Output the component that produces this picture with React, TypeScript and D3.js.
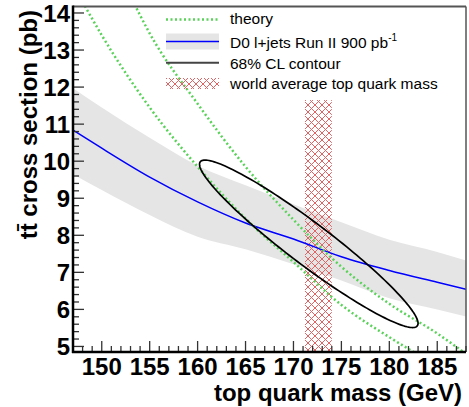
import React from "react";
import * as d3 from "d3";

// ---- data ----
const massGrid = [147, 150, 155, 160, 165, 170, 175, 180, 185, 188];
const measured = [10.84, 10.35, 9.57, 8.9, 8.33, 7.9, 7.42, 7.05, 6.73, 6.54];
const bandHigh = [11.97, 11.45, 10.63, 9.88, 9.35, 8.84, 8.35, 7.88, 7.55, 7.32];
const bandLow = [9.65, 9.22, 8.55, 7.96, 7.62, 7.22, 6.78, 6.3, 6.0, 5.81];

const theoryAMass = [148, 150, 155, 160, 165, 170, 175, 180, 183];
const theoryA = [14.3, 13.4, 11.45, 9.85, 8.45, 7.28, 6.12, 5.25, 4.78];
const theoryBMass = [153, 155, 160, 165, 170, 175, 180, 185, 188];
const theoryB = [14.45, 13.45, 11.55, 9.85, 8.42, 7.15, 6.15, 5.35, 4.8];

// 68% CL contour: centre, half extents, correlation
const contourCentre = [171.6, 7.77];
const contourHalfExtent = [11.4, 2.26];
const contourRho = -0.95;

// world average top quark mass band
const worldAvgRange = [171.2, 174.0];
const worldAvgTop = 11.65;

const xDomain = [147, 188];
const yDomain = [4.85, 14.175];
const xMajor = [150, 155, 160, 165, 170, 175, 180, 185];
const yMajor = [5, 6, 7, 8, 9, 10, 11, 12, 13, 14];

const legendLabels = ["theory", "D0 l+jets Run II 900 pb", "68% CL contour", "world average top quark mass"];

const FONT = "'Liberation Sans', Arial, Helvetica, sans-serif";

export default function App() {
  const W = 469, H = 407;
  const L = 73, R = 466, T = 6.5, B = 352;
  const x = d3.scaleLinear().domain(xDomain).range([L, R]);
  const y = d3.scaleLinear().domain(yDomain).range([B, T]);

  const area = d3
    .area<number>()
    .x((_, i) => x(massGrid[i]))
    .y0((_, i) => y(bandLow[i]))
    .y1((_, i) => y(bandHigh[i]))
    .curve(d3.curveMonotoneX);
  const line = d3
    .line<[number, number]>()
    .x((d) => x(d[0]))
    .y((d) => y(d[1]))
    .curve(d3.curveMonotoneX);

  const measuredPts = massGrid.map((m, i) => [m, measured[i]] as [number, number]);
  const thA = theoryAMass.map((m, i) => [m, theoryA[i]] as [number, number]);
  const thB = theoryBMass.map((m, i) => [m, theoryB[i]] as [number, number]);

  const ellPts: [number, number][] = d3.range(0, 361, 2).map((deg) => {
    const t = (deg * Math.PI) / 180;
    const m = contourCentre[0] + contourHalfExtent[0] * Math.cos(t);
    const s =
      contourCentre[1] +
      contourHalfExtent[1] * (contourRho * Math.cos(t) + Math.sqrt(1 - contourRho * contourRho) * Math.sin(t));
    return [m, s];
  });
  const ellPath = d3
    .line<[number, number]>()
    .x((d) => x(d[0]))
    .y((d) => y(d[1]))
    .curve(d3.curveLinearClosed)(ellPts);

  const xMinor = d3.range(147, 189, 1).filter((v) => !xMajor.includes(v));
  const yMinor = d3.range(50, 142, 2).map((v) => v / 10).filter((v) => !yMajor.includes(v) && v <= yDomain[1]);

  const green = "#5ad25a";
  const hatchColor = "#e06464";

  const legX0 = 166, legX1 = 219, legTX = 230;

  return (
    <svg width={W} height={H} style={{ position: "absolute", left: 0, top: 0, background: "#fff" }} fontFamily={FONT}>
      <defs>
        <clipPath id="plotClip">
          <rect x={L} y={T} width={R - L} height={B - T} />
        </clipPath>
        <pattern id="hatch" patternUnits="userSpaceOnUse" width={7} height={7}>
          <path d="M-1,-1 L8,8 M8,-1 L-1,8" stroke={hatchColor} strokeWidth={1} fill="none" />
        </pattern>
      </defs>

      <g clipPath="url(#plotClip)">
        <path d={area(massGrid) || ""} fill="#e5e5e5" />
        <rect
          x={x(worldAvgRange[0])}
          y={y(worldAvgTop)}
          width={x(worldAvgRange[1]) - x(worldAvgRange[0])}
          height={B - y(worldAvgTop)}
          fill="url(#hatch)"
        />
        <path d={line(measuredPts) || ""} fill="none" stroke="#0000ff" strokeWidth={1.5} />
        <path d={line(thA) || ""} fill="none" stroke={green} strokeWidth={2.5} strokeDasharray="2 2.5" />
        <path d={line(thB) || ""} fill="none" stroke={green} strokeWidth={2.5} strokeDasharray="2 2.5" />
        <path d={ellPath || ""} fill="none" stroke="#000" strokeWidth={1.7} />
      </g>

      {/* frame */}
      <line x1={L} x2={R} y1={T} y2={T} stroke="#555" strokeWidth={2} />
      <line x1={R} x2={R} y1={T} y2={B} stroke="#555" strokeWidth={1.5} />

      {/* x ticks */}
      {xMinor.map((v) => (
        <line key={"xm" + v} x1={x(v)} x2={x(v)} y1={B} y2={B - 6} stroke="#333" strokeWidth={1.3} />
      ))}
      {xMajor.map((v) => (
        <line key={"xM" + v} x1={x(v)} x2={x(v)} y1={B} y2={B - 11} stroke="#333" strokeWidth={1.3} />
      ))}
      {xMajor.map((v) => (
        <text key={"xl" + v} x={x(v)} y={375} textAnchor="middle" fontSize={24} fontWeight="bold" fill="#000">
          {v}
        </text>
      ))}

      {/* y ticks */}
      {yMinor.map((v) => (
        <line key={"ym" + v} x1={L} x2={L + 6} y1={y(v)} y2={y(v)} stroke="#333" strokeWidth={1.3} />
      ))}
      {yMajor.map((v) => (
        <line key={"yM" + v} x1={L} x2={L + 11} y1={y(v)} y2={y(v)} stroke="#333" strokeWidth={1.3} />
      ))}
      {yMajor.map((v) => (
        <text key={"yl" + v} x={70} y={y(v)} dy="0.36em" textAnchor="end" fontSize={24} fontWeight="bold" fill="#000">
          {v}
        </text>
      ))}

      {/* axis lines */}
      <line x1={L} x2={L} y1={T - 1} y2={B + 1} stroke="#000" strokeWidth={2.5} />
      <line x1={L - 1} x2={R} y1={B} y2={B} stroke="#000" strokeWidth={2.5} />

      {/* axis titles */}
      <text x={462} y={401} textAnchor="end" fontSize={24} fontWeight="bold" fill="#000">
        top quark mass (GeV)
      </text>
      <text transform="translate(37,10) rotate(-90)" textAnchor="end" fontSize={24} fontWeight="bold" fill="#000">
        {"tt\u0304 cross section (pb)"}
      </text>

      {/* legend */}
      <line x1={legX0} x2={legX1} y1={19.5} y2={19.5} stroke={green} strokeWidth={2.5} strokeDasharray="2 2.5" />
      <rect x={legX0} y={33.5} width={legX1 - legX0} height={16} fill="#e5e5e5" />
      <line x1={legX0} x2={legX1} y1={41.5} y2={41.5} stroke="#0000ff" strokeWidth={1.5} />
      <line x1={legX0} x2={legX1} y1={62.7} y2={62.7} stroke="#444" strokeWidth={2} />
      <rect x={legX0} y={78} width={legX1 - legX0} height={11} fill="url(#hatch)" />

      <g fontSize={15.5} fill="#000">
        <text x={legTX} y={24}>{legendLabels[0]}</text>
        <text x={legTX} y={48.3}>
          {legendLabels[1]}
          <tspan fontSize={10} dy={-7}>-1</tspan>
        </text>
        <text x={legTX} y={69}>{legendLabels[2]}</text>
        <text x={legTX} y={89.3}>{legendLabels[3]}</text>
      </g>
    </svg>
  );
}
